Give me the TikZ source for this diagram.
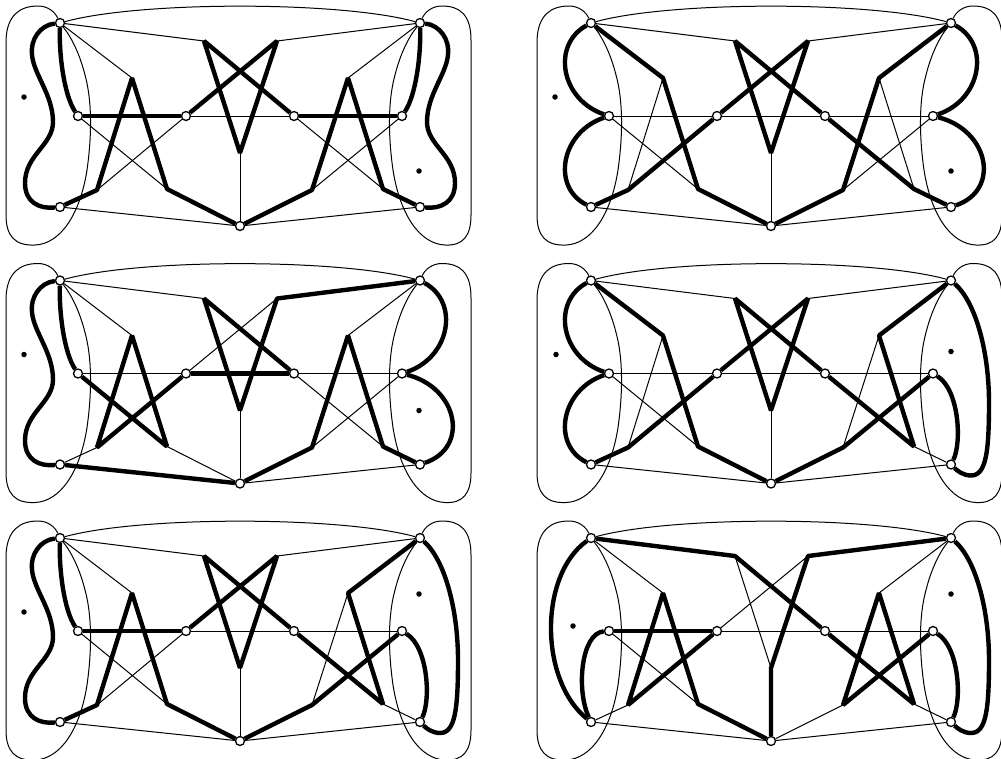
\documentclass[tikz,border=0pt]{standalone}
\newcommand\basegraph{%
  \node[vtx] (TL) at (60,23) {};
  \node[vtx] (ML) at (78,116) {};
  \node[vtx] (BL) at (60,207) {};
  \node[vtx] (TR) at (420,23) {};
  \node[vtx] (MR) at (402,116) {};
  \node[vtx] (BR) at (420,207) {};
  \node[vtx] (C1) at (186,116) {};
  \node[vtx] (C2) at (294,116) {};
  \node[vtx] (B) at (240,226) {};
  \coordinate (A1) at (132,78);
  \coordinate (A2) at (97,190);
  \coordinate (A3) at (167,189);
  \coordinate (A4) at (348,78);
  \coordinate (A5) at (312,190);
  \coordinate (A6) at (383,189);
  \coordinate (S1) at (204,41);
  \coordinate (S2) at (277,41);
  \coordinate (S3) at (240,153);
  % frame
  \draw[thinedge] (TL) .. controls (140,1) and (340,1) .. (TR);
  \draw[thinedge] (TL) .. controls (55,12) and (48,6) .. (38,6)
     .. controls (20,6) and (7,15) .. (6,40) -- (6,215)
     .. controls (6,236) and (15,246) .. (35,245)
     .. controls (60,244) and (80,215) .. (87,170)
     .. controls (92,135) and (92,100) .. (85,75)
     .. controls (80,55) and (72,38) .. (TL);
  \draw[thinedge] (TR) .. controls (425,12) and (432,6) .. (442,6)
     .. controls (460,6) and (471,15) .. (471,40) -- (471,215)
     .. controls (471,236) and (463,246) .. (445,245)
     .. controls (420,244) and (400,215) .. (393,170)
     .. controls (388,135) and (388,100) .. (395,75)
     .. controls (400,55) and (408,38) .. (TR);
  \foreach \a/\b in {TL/S1,TR/S2,TL/A1,TR/A4,ML/C1,C1/C2,C2/MR,ML/A3,C1/A2,
     C2/A6,MR/A5,BL/B,BR/B,S3/B,A1/A2,A1/A3,A4/A5,A4/A6,BL/A2,A3/B,B/A5,
     A6/BR,S1/S3,S3/S2,S2/C1,C2/S1}
     \draw[thinedge] (\a) -- (\b);
}
\newcommand\myLinner{\draw[thickedge] (TL) .. controls (59,55) and (64,95) .. (ML);}
\newcommand\myLwavy{\draw[thickedge] (TL) .. controls (40,25) and (30,40) .. (32,55)
   .. controls (34,75) and (53,95) .. (53,122)
   .. controls (53,145) and (25,155) .. (25,183)
   .. controls (25,203) and (40,209) .. (BL);}
\newcommand\myRinner{\draw[thickedge] (TR) .. controls (421,55) and (416,95) .. (MR);}
\newcommand\myRwavy{\draw[thickedge] (TR) .. controls (440,25) and (450,40) .. (448,55)
   .. controls (446,75) and (427,95) .. (427,122)
   .. controls (427,145) and (455,155) .. (455,183)
   .. controls (455,203) and (440,209) .. (BR);}
\newcommand\myLlobes{\draw[thickedge] (TL) .. controls (20,45) and (30,100) .. (ML);
   \draw[thickedge] (ML) .. controls (30,132) and (20,187) .. (BL);}
\newcommand\myRlobes{\draw[thickedge] (TR) .. controls (460,45) and (450,100) .. (MR);
   \draw[thickedge] (MR) .. controls (458,130) and (470,190) .. (BR);}
\newcommand\myRouter{\draw[thickedge] (MR) .. controls (428,132) and (431,185) .. (BR);
   \draw[thickedge] (TR) .. controls (445,45) and (458,95) .. (458,145)
   .. controls (458,195) and (455,218) .. (440,218)
   .. controls (432,218) and (426,213) .. (BR);}
\newcommand\myLarc{\draw[thickedge] (ML) .. controls (50,118) and (45,175) .. (BL);
   \draw[thickedge] (TL) .. controls (8,60) and (8,165) .. (BL);}
\begin{document}
\begin{tikzpicture}[x=1pt,y=-1pt,
  vtx/.style={circle,draw,fill=white,line width=1.3pt,inner sep=0pt,minimum size=9pt},
  thinedge/.style={line width=1pt},
  thickedge/.style={line width=4.4pt,line join=bevel},
  dotmark/.style={circle,fill,inner sep=0pt,minimum size=5.5pt}]
\useasboundingbox (0,0) rectangle (1001,758);
% panel 1
\begin{scope}[shift={(0,0)}]
  \basegraph
  \draw[thickedge] (ML) -- (C1);
  \draw[thickedge] (C1) -- (S2) -- (S3) -- (S1) -- (C2);
  \draw[thickedge] (C2) -- (MR);
  \draw[thickedge] (BR) -- (A6) -- (A4) -- (A5) -- (B);
  \draw[thickedge] (B) -- (A3) -- (A1) -- (A2) -- (BL);
  \myLinner \myLwavy \myRinner \myRwavy
  \node[dotmark] (d1l) at (24,97) {};
  \node[dotmark] (d1r) at (419,171) {};
\end{scope}
% panel 2
\begin{scope}[shift={(531,0)}]
  \basegraph
  \draw[thickedge] (TL) -- (A1) -- (A3) -- (B);
  \draw[thickedge] (B) -- (A5) -- (A4) -- (TR);
  \draw[thickedge] (BR) -- (A6) -- (C2);
  \draw[thickedge] (C2) -- (S1) -- (S3) -- (S2) -- (C1);
  \draw[thickedge] (C1) -- (A2) -- (BL);
  \myLlobes \myRlobes
  \node[dotmark] (d2l) at (24,97) {};
  \node[dotmark] (d2r) at (420,171) {};
\end{scope}
% panel 3
\begin{scope}[shift={(0,257.5)}]
  \basegraph
  \draw[thickedge] (ML) -- (A3) -- (A1) -- (A2) -- (C1);
  \draw[thickedge] (C1) -- (C2);
  \draw[thickedge] (C2) -- (S1) -- (S3) -- (S2) -- (TR);
  \draw[thickedge] (BR) -- (A6) -- (A4) -- (A5) -- (B);
  \draw[thickedge] (B) -- (BL);
  \myLinner \myLwavy \myRlobes
  \node[dotmark] (d3l) at (24,97) {};
  \node[dotmark] (d3r) at (419,153) {};
\end{scope}
% panel 4
\begin{scope}[shift={(531,257.5)}]
  \basegraph
  \draw[thickedge] (TL) -- (A1) -- (A3) -- (B);
  \draw[thickedge] (B) -- (A5) -- (MR);
  \draw[thickedge] (TR) -- (A4) -- (A6) -- (C2);
  \draw[thickedge] (C2) -- (S1) -- (S3) -- (S2) -- (C1);
  \draw[thickedge] (C1) -- (A2) -- (BL);
  \myLlobes \myRouter
  \node[dotmark] (d4l) at (25,97) {};
  \node[dotmark] (d4r) at (420,94) {};
\end{scope}
% panel 5
\begin{scope}[shift={(0,515)}]
  \basegraph
  \draw[thickedge] (ML) -- (C1);
  \draw[thickedge] (C1) -- (S2) -- (S3) -- (S1) -- (C2);
  \draw[thickedge] (C2) -- (A6) -- (A4) -- (TR);
  \draw[thickedge] (MR) -- (A5) -- (B);
  \draw[thickedge] (B) -- (A3) -- (A1) -- (A2) -- (BL);
  \myLinner \myLwavy \myRouter
  \node[dotmark] (d5l) at (24,97) {};
  \node[dotmark] (d5r) at (419,79) {};
\end{scope}
% panel 6
\begin{scope}[shift={(531,515)}]
  \basegraph
  \draw[thickedge] (TL) -- (S1) -- (C2);
  \draw[thickedge] (C2) -- (A6) -- (A4) -- (A5) -- (MR);
  \draw[thickedge] (TR) -- (S2) -- (S3) -- (B);
  \draw[thickedge] (B) -- (A3) -- (A1) -- (A2) -- (C1);
  \draw[thickedge] (C1) -- (ML);
  \myRouter \myLarc
  \node[dotmark] (d6l) at (42,111) {};
  \node[dotmark] (d6r) at (420,79) {};
\end{scope}
\end{tikzpicture}
\end{document}
